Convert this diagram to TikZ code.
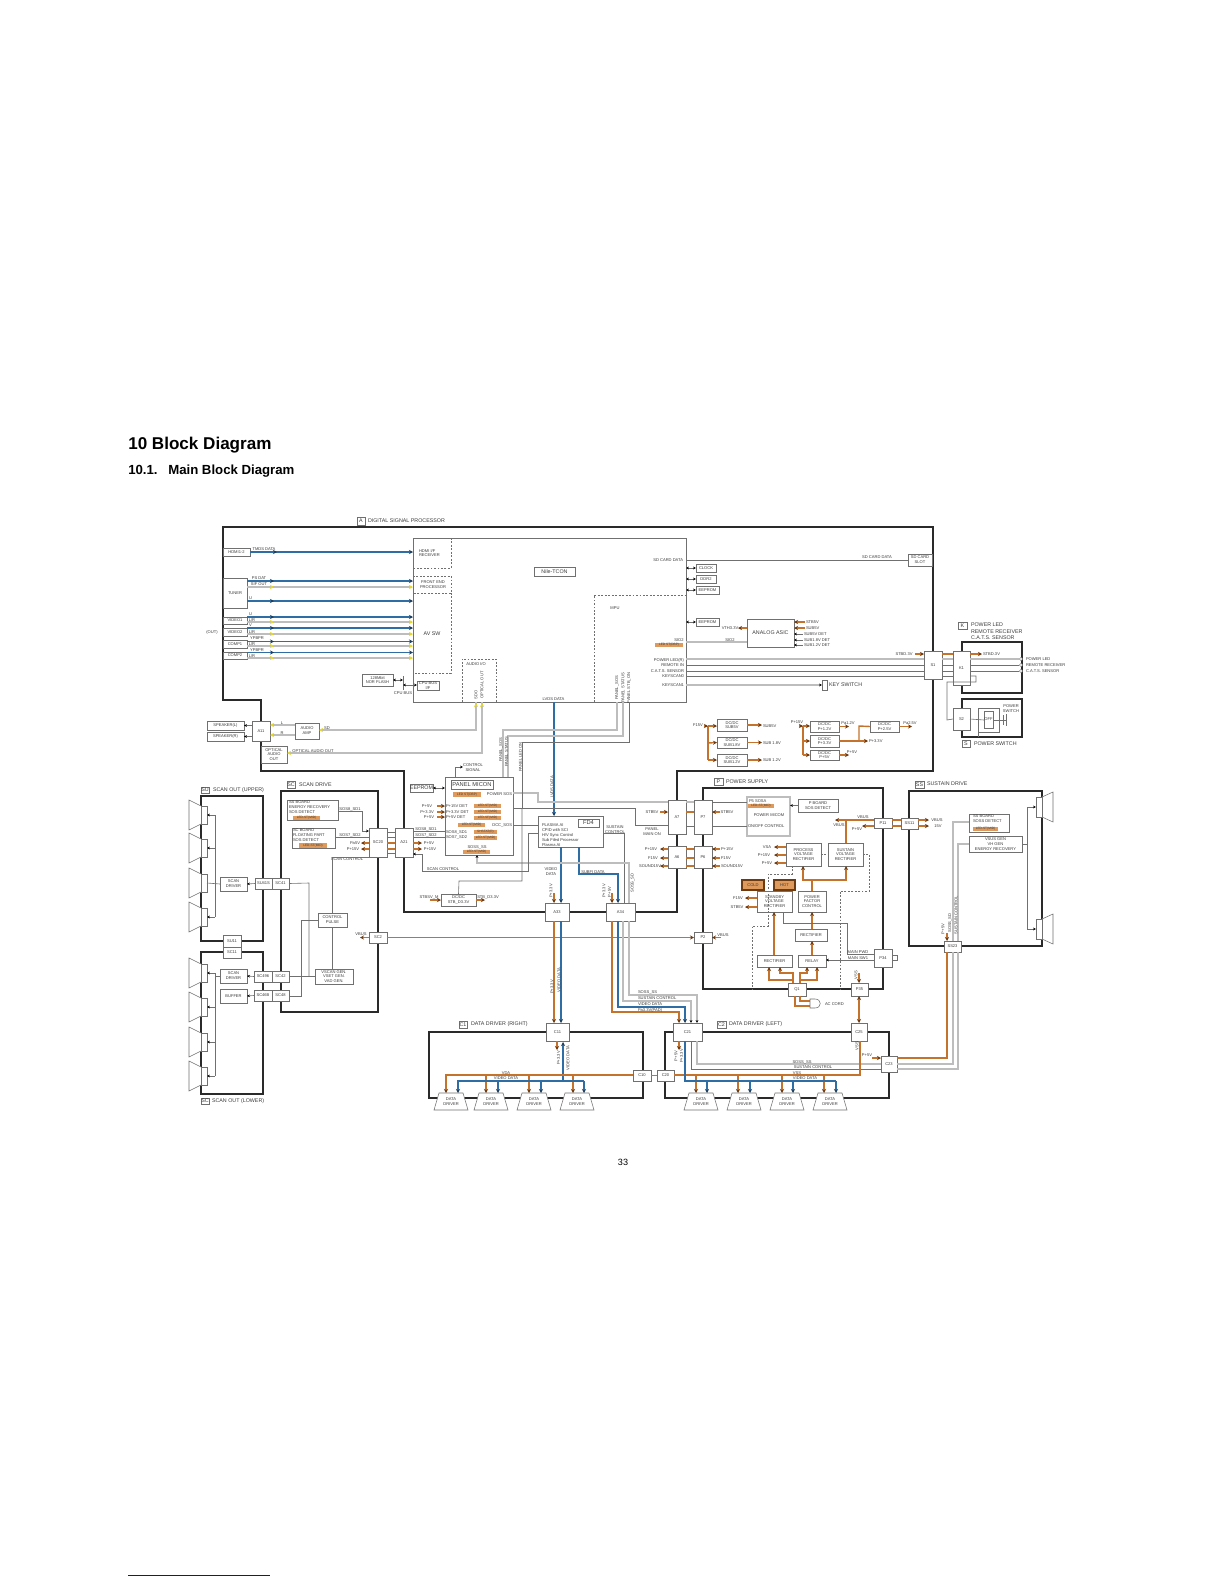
\documentclass[tikz,border=0pt]{standalone}
\usepackage{fontspec}
\setmainfont{Liberation Sans}
\usetikzlibrary{arrows.meta}
\definecolor{ocol}{HTML}{C4722C}
\definecolor{odark}{HTML}{6E3A10}
\definecolor{ofill}{HTML}{DE9A5C}
\definecolor{bcol}{HTML}{2F6EA5}
\definecolor{bdark}{HTML}{1E3F5E}
\definecolor{gcol}{HTML}{BDBDBD}
\definecolor{dcol}{HTML}{707070}
\definecolor{txt}{HTML}{3C3C3C}
\definecolor{brdc}{HTML}{2A2A2A}
\definecolor{ycol}{HTML}{E6D820}
\tikzset{
  ak/.tip={Stealth[length=2.2pt,width=2pt,black]},
  ao/.tip={Stealth[length=3pt,width=3pt,odark]},
  ab/.tip={Stealth[length=3pt,width=3pt,bdark]},
  ay/.tip={Stealth[length=3pt,width=3pt,ycol]},
  lnor/.style={draw=ocol,line width=1.05pt},
  lnbu/.style={draw=bcol,line width=1.05pt},
  lngy/.style={draw=gcol,line width=.95pt},
  lntn/.style={draw=dcol,line width=.45pt},
  brd/.style={draw=brdc,line width=.95pt,fill=none},
  fz/.style={font=\fontsize{2.4pt}{2.9pt}\selectfont},
  fa/.style={font=\fontsize{3.05pt}{3.65pt}\selectfont},
  fb/.style={font=\fontsize{4pt}{4.7pt}\selectfont},
  fc/.style={font=\fontsize{4.3pt}{5pt}\selectfont},
  bxs/.style={draw=dcol,line width=.45pt,fill=white,inner sep=0pt,outer sep=0pt,align=center,text=txt,fb},
  lbs/.style={inner sep=0pt,outer sep=0pt,text=txt,fa,align=center},
  dsh/.style={draw=dcol,line width=.4pt,dash pattern=on 1.4pt off 1.2pt},
  hig/.style={draw=none,fill=ofill,fz},
  wsym/.style={draw=dcol,line width=.4pt,fill=white},
}
\newcount\lbn
\newcommand{\bx}[7][]{%
  \pgfmathsetmacro\cxx{((#3)+(#5))/2}\pgfmathsetmacro\cyy{((#4)+(#6))/2}%
  \pgfmathsetmacro\www{((#5)-(#3))*0.75}\pgfmathsetmacro\hhh{((#6)-(#4))*0.75}%
  \node[bxs,minimum width=\www pt,minimum height=\hhh pt,#1](#2) at (\cxx,\cyy){#7};}
\newcommand{\lb}[4][]{\global\advance\lbn by 1 \node[lbs,#1](t\the\lbn) at (#2,#3){#4};}
\newcommand{\hc}[4][lntn]{\draw[#1] (#2.east |- 0,#4) -- (#3.west |- 0,#4);}
\newcommand{\vc}[4][lntn]{\draw[#1] (#2.south -| #4,0) -- (#3.north -| #4,0);}
\newcommand{\hig}[6]{\bx[hig]{#1}{#2}{#3}{#4}{#5}{#6}}
\newcommand{\sigb}[3][lnbu]{\draw[#1,-ab] (#2.east |- 0,#3) -- (cpu.west |- 0,#3);\draw[#1,-ab] (#2.east |- 0,#3) -- ++(27,0);}
\newcommand{\sigg}[2]{\draw[lngy,-ay] (#1.east |- 0,#2) -- (cpu.west |- 0,#2);\draw[lngy,-ay] (#1.east |- 0,#2) -- ++(27,0);}
\newcommand{\spkl}[2]{\draw[wsym] (201,#2-9) -- (189,#2-15) -- (189,#2+15) -- (201,#2+9);\bx{#1}{201}{#2-9}{207}{#2+9}{}}
\newcommand{\spkr}[2]{\draw[wsym] (1042,#2-10) -- (1053,#2-15) -- (1053,#2+15) -- (1042,#2+10);\bx{#1}{1036}{#2-10}{1042}{#2+10}{}}
\newcommand{\ddrv}[2]{\draw[wsym] (#2-12,1093) -- (#2+12,1093) -- (#2+17,1110) -- (#2-17,1110) -- cycle;\node[lbs,minimum height=12.75pt,minimum width=18pt,text depth=0pt](#1) at (#2,1101.5){DATA\\DRIVER};}
\begin{document}
\begin{tikzpicture}[x=0.75pt,y=-0.75pt]
\useasboundingbox (0,0) rectangle (1224,1584);
\fill[white] (0,0) rectangle (1224,1584);
% page headings
\node[anchor=base west,inner sep=0pt,font=\fontsize{12.8pt}{15pt}\selectfont\bfseries](htitle) at (128,449){10 Block Diagram};
\node[anchor=base west,inner sep=0pt,font=\fontsize{9.9pt}{12pt}\selectfont\bfseries](hsub) at (128,474){10.1.};
\node[anchor=base west,inner sep=0pt,font=\fontsize{9.9pt}{12pt}\selectfont\bfseries](hsubb) at (168,474){Main Block Diagram};
\node[inner sep=0pt,font=\fontsize{6.8pt}{8pt}\selectfont](pgno) at (623,1162){33};
\draw[draw={rgb,255:red,20;green,20;blue,130},line width=.7pt] (128,1575) -- (270,1575);
% thick board outlines
\draw[brd] (223,527) -- (933,527) -- (933,771) -- (677,771) -- (677,912) -- (404,912) -- (404,771) -- (261,771) -- (261,700) -- (223,700) -- cycle;
\draw[brd] (201,796) rectangle (263,941);
\draw[brd] (201,952) rectangle (263,1094);
\draw[brd] (281,791) rectangle (378,1012);
\draw[brd] (703,788) rectangle (883,989);
\draw[brd] (909,791) rectangle (1042,946);
\draw[brd] (429,1032) rectangle (643,1098);
\draw[brd] (665,1032) rectangle (889,1098);
\draw[brd] (962,642) rectangle (1022,693);
\draw[brd] (962,699) rectangle (1022,737);
% A board left blocks
\bx[fa]{hdmi}{223}{548}{250}{556}{HDMI1-2}
\bx[fa]{tuner}{223}{578}{247}{608}{TUNER}
\bx[fa]{vone}{223}{617}{247}{624}{VIDEO1}
\bx[fa]{vtwo}{223}{628}{247}{636}{VIDEO2}
\bx[fa]{cone}{223}{640}{247}{648}{COMP1}
\bx[fa]{ctwo}{223}{652}{247}{659}{COMP2}
\lb{212}{632}{(OUT)}
\bx[fill=white]{cpu}{413}{538}{686}{702}{}
\draw[dsh] (451,538) -- (451,568) -- (413,568);
\draw[dsh] (413,576) -- (451,576) -- (451,593) -- (413,593);
\draw[dsh] (451,593) -- (451,673) -- (413,673);
\draw[dsh] (462,702) -- (462,659) -- (496,659) -- (496,702);
\draw[dsh] (594,702) -- (594,595) -- (686,595);
\lb[anchor=west,fa,align=left]{419}{553}{HDMI I/F\\RECEIVER}
\lb[fa]{433}{585}{FRONT END\\PROCESSOR}
\lb[fb]{432}{634}{AV SW}
\lb[fa]{476}{664}{AUDIO I/O}
\lb[rotate=90]{476}{695}{SDO}
\lb[rotate=90]{482}{685}{OPTICAL OUT}
\lb{615}{608}{MPU}
\bx[fb]{tcon}{534}{567}{575}{576}{Nile-TCON}
\bx[fa]{nor}{362}{674}{393}{686}{128Mbit\\NOR FLASH}
\bx[fa]{cpubus}{417}{681}{439}{690}{CPU BUS\\I/F}
\coordinate (busbar) at (403,683);
\draw[lntn] (403,676) -- (403,690);
\lb{403}{693.5}{CPU BUS}
\draw[lntn,ak-ak] (nor.east |- 0,680) -- (busbar |- 0,680);
\draw[lntn,ak-ak] (busbar |- 0,685) -- (cpubus.west |- 0,685);
% A board signals
\sigb{hdmi}{552}
\lb{264}{549.5}{TMDS DATA}
\sigb{tuner}{581}
\sigg{tuner}{587}
\sigb{tuner}{601}
\lb{259}{578.5}{PS DAT}
\lb{259}{584.5}{SIF OUT}
\lb{250.5}{598.5}{U}
\sigb{vone}{617}
\sigg{vone}{622}
\sigb{vtwo}{628}
\sigg{vtwo}{634}
\sigb{cone}{641.5}
\sigg{cone}{646}
\sigb{ctwo}{652.5}
\sigg{ctwo}{658}
\lb{250.5}{614.5}{U}\lb{252}{620.5}{L/R}\lb{250.5}{625.5}{V}\lb{252}{632}{L/R}
\lb{257}{638.5}{YPBPR}\lb{252}{644.5}{L/R}\lb{257}{650}{YPBPR}\lb{252}{656}{L/R}
% audio
\bx[fa]{spl}{207}{721}{244}{730}{SPEAKER(L)}
\bx[fa]{spr}{207}{732}{244}{741}{SPEAKER(R)}
\bx[fa]{aeleven}{252}{721}{270}{741}{A11}
\bx[fa]{amp}{295}{723}{319}{739}{AUDIO\\AMP}
\bx[fa]{optout}{261}{746}{287}{763}{OPTICAL\\AUDIO\\OUT}
\draw[lntn,-ak] (aeleven.west |- spl) -- (spl.east);
\draw[lntn,-ak] (aeleven.west |- spr) -- (spr.east);
\draw[lngy,-ay] (amp.west |- 0,725) -- (aeleven.east |- 0,725);
\draw[lngy,-ay] (amp.west |- 0,735) -- (aeleven.east |- 0,735);
\lb{282}{723}{L}\lb{282}{733}{R}
\draw[lngy,ay-] (amp.east |- 0,730) -- (476,730) -- (476,702);
\draw[lngy,ay-] (optout.east |- 0,753) -- (482,753) -- (482,702);
\draw[lngy,-ay] (476,712) -- (476,703);
\draw[lngy,-ay] (482,712) -- (482,703);
\lb{327}{728}{SD}
\lb{313}{751}{OPTICAL AUDIO OUT}
\bx[fb]{hA}{357}{517}{365}{525}{A}
\lb[fb,anchor=west]{368}{521}{DIGITAL SIGNAL PROCESSOR}
% A board right
\bx[fa]{clock}{696}{564}{716}{572}{CLOCK}
\bx[fa]{ddr}{696}{575}{716}{583}{DDR2}
\bx[fa]{eepa}{696}{586}{719}{594}{EEPROM}
\bx[fa]{eepb}{696}{618}{719}{626}{EEPROM}
\draw[lntn,ak-ak] (cpu.east |- clock) -- (clock.west);
\draw[lntn,ak-ak] (cpu.east |- ddr) -- (ddr.west);
\draw[lntn,ak-ak] (cpu.east |- eepa) -- (eepa.west);
\draw[lntn,ak-ak] (cpu.east |- eepb) -- (eepb.west);
\bx[fa]{sdslot}{908}{554}{932}{566}{SD CARD\\SLOT}
\hc[lntn]{cpu}{sdslot}{560}
\lb[anchor=east]{683}{560}{SD CARD DATA}
\lb{877}{557}{SD CARD DATA}
\bx[fb]{asic}{747}{619}{794}{647}{ANALOG ASIC}
\draw[lnor,-ao] (asic.west |- 0,628) -- ++(-9,0);
\lb{730}{628}{VTH3.3V}
\draw[lnor,ao-] (asic.east |- 0,622) -- ++(11,0);
\draw[lnor,ao-] (asic.east |- 0,628) -- ++(11,0);
\draw[lntn,ak-] (asic.east |- 0,634) -- ++(9,0);
\draw[lntn,ak-] (asic.east |- 0,640) -- ++(9,0);
\draw[lntn,ak-] (asic.east |- 0,645) -- ++(9,0);
\lb[anchor=west]{806}{622}{STB5V}
\lb[anchor=west]{806}{628}{SUB5V}
\lb[anchor=west]{804}{634}{SUB5V DET}
\lb[anchor=west]{804}{640}{SUB1.8V DET}
\lb[anchor=west]{804}{645}{SUB1.2V DET}
\draw[lngy] (cpu.east |- 0,642) -- (asic.west |- 0,642);
\lb{679}{640}{SIO2}\lb{730}{640}{SIO2}
\hig{hsio}{655}{643}{683}{647}{LED ST(DBP)}
\bx[fa]{sone}{924}{651}{942}{679}{S1}
\bx[fa]{kone}{953}{651}{970}{685}{K1}
\bx[fa]{stwo}{953}{708}{970}{730}{S2}
\draw[lngy] (cpu.east |- 0,659) -- (sone.west |- 0,659);
\hc[lntn]{cpu}{sone}{665}
\hc[lntn]{cpu}{sone}{671}
\hc[lntn]{cpu}{sone}{676}
\lb[anchor=east]{684}{660}{POWER LED(R)}
\lb[anchor=east]{684}{665.5}{REMOTE IN}
\lb[anchor=east]{684}{671}{C.A.T.S. SENSOR}
\lb[anchor=east]{684}{676.5}{KEYSCAN0}
\lb[anchor=east]{684}{685}{KEYSCAN1}
\bx{keysw}{822}{680}{827}{690}{}
\draw[lngy,-ak] (cpu.east |- keysw) -- (keysw.west);
\lb[anchor=west,fb]{829}{685}{KEY SWITCH}
\lb[rotate=90]{617}{688}{PANEL\_SOS}
\lb[rotate=90]{623}{688}{PANEL STATUS}
\lb[rotate=90]{629}{688}{PANEL STB\_ON}
% DC/DC groups
\bx[fa]{dsa}{717}{719}{747}{731}{DC/DC\\SUB5V}
\bx[fa]{dsb}{717}{737}{747}{748}{DC/DC\\SUB1.8V}
\bx[fa]{dsc}{717}{754}{747}{766}{DC/DC\\SUB1.2V}
\coordinate (fbus) at (708,726);
\draw[lnor] (fbus) -- (708,760);
\draw[lnor,-ao] (fbus) -- (dsa.west |- fbus);
\draw[lnor,-ao] (708,743) -- (dsb.west);
\draw[lnor,-ao] (708,760) -- (dsc.west);
\draw[lnor,ao-] (fbus) -- ++(-4,0);
\draw[lnor,-ao] (dsa.east) -- ++(15,0);
\draw[lnor,-ao] (dsb.east) -- ++(15,0);
\draw[lnor,-ao] (dsc.east) -- ++(15,0);
\lb{698}{725}{F15V}\lb[anchor=west]{763}{726}{SUB5V}\lb[anchor=west]{763}{743}{SUB 1.8V}\lb[anchor=west]{763}{760}{SUB 1.2V}
\bx[fa]{dpa}{810}{721}{839}{732}{DC/DC\\P+1.2V}
\bx[fa]{dpb}{810}{735}{839}{747}{DC/DC\\P+3.3V}
\bx[fa]{dpc}{810}{750}{839}{760}{DC/DC\\P+5V}
\bx[fa]{dpd}{870}{721}{899}{732}{DC/DC\\P+2.5V}
\coordinate (pbus) at (803,726);
\draw[lnor] (pbus) -- (803,755);
\draw[lnor,ao-] (pbus) -- ++(-4,0);
\draw[lnor,-ao] (pbus) -- (dpa.west |- pbus);
\draw[lnor,-ao] (803,741) -- (dpb.west);
\draw[lnor,-ao] (803,755) -- (dpc.west);
\draw[lnor,-ao] (dpa.east) -- ++(10,0);
\draw[lnor,-ao] (dpc.east) -- ++(10,0);
\draw[lnor,-ao] (dpb.east) -- (868,741);
\draw[lnor] (859,741) -- (859,726) -- (dpd.west);
\draw[lnor,-ao] (dpd.east) -- ++(13,0);
\lb{797}{722}{P+15V}\lb{848}{723}{Pa1.2V}\lb{852}{752}{P+5V}\lb[anchor=west]{869}{741}{P+3.3V}\lb{910}{723}{Pa2.5V}
% K, S
\hc[lnor]{sone}{kone}{654}
\draw[lnor,ao-] (sone.west |- 0,654) -- ++(-9,0);
\draw[lnor,-ao] (kone.east |- 0,654) -- ++(12,0);
\lb{904}{654}{STBD.3V}\lb[anchor=west]{983}{654}{STBD.3V}
\hc[lngy]{sone}{kone}{659}\hc{sone}{kone}{665}\hc{sone}{kone}{671}\hc{sone}{kone}{676}
\node[circle,draw=dcol,line width=.3pt,fill=white,inner sep=0pt,minimum size=2.4pt](cla) at (1021,659){};
\node[circle,draw=dcol,line width=.3pt,fill=white,inner sep=0pt,minimum size=2.4pt](clb) at (1021,665){};
\node[circle,draw=dcol,line width=.3pt,fill=white,inner sep=0pt,minimum size=2.4pt](clc) at (1021,671){};
\draw[lngy] (kone.east |- cla) -- (cla);
\draw[lntn] (kone.east |- clb) -- (clb);
\draw[lntn] (kone.east |- clc) -- (clc);
\lb[anchor=west]{1026}{659}{POWER LED}\lb[anchor=west]{1026}{665.5}{REMOTE RECEIVER}\lb[anchor=west]{1026}{671}{C.A.T.S. SENSOR}
\bx[fb]{hK}{958}{622}{967}{629}{K}
\lb[anchor=west,fb,align=left]{971}{625}{POWER LED}\lb[anchor=west,fb]{971}{631.5}{REMOTE RECEIVER}\lb[anchor=west,fb]{971}{638}{C.A.T.S. SENSOR}
\bx[fb]{hS}{962}{740}{970}{747}{S}
\lb[anchor=west,fb]{974}{743.5}{POWER SWITCH}
\draw[lntn] (kone.east |- 0,676) -- (976,676) -- (976,682) -- (947,682) -- (947,720) -- (stwo.west);
\draw[lntn] (stwo.east) -- (984,720);
\draw[lntn] (978,737) -- (978,708) -- (999,708) -- (999,732) -- (978,732);
\bx{swin}{984}{711}{993}{728}{}
\lb{988.5}{719.5}{OFF}
\lb{1011}{708.5}{POWER\\SWITCH}
\draw[lntn] (993,720) -- (1006,720);
\draw[lntn] (1003,715) -- (1003,725);
\draw[lntn] (1006,714) -- (1006,726);
% Panel micom
\bx{micom}{445}{777}{513}{855}{}
\bx[fc]{mictit}{451}{780}{493}{789}{PANEL MICON}
\bx[fb]{eepc}{410}{784}{433}{792}{EEPROM}
\draw[lntn,ak-ak] (eepc.east) -- (micom.west |- eepc);
\lb{473}{768}{CONTROL\\SIGNAL}
\draw[lntn,-ak] (micom.north -| 455,0) -- (455,767) -- (463,767);
\hig{ha}{453}{792}{481}{797}{LED ST(DBP)}
\hig{hb}{474}{804}{501}{808}{LED-ST(MID)}
\hig{hc}{474}{810}{501}{814}{LED-ST(MID)}
\hig{hd}{474}{816}{501}{820}{LED-SF(MID)}
\hig{he}{458}{823}{485}{827}{LED-ST(MID)}
\hig{hf}{474}{830}{497}{834}{SHSTAT(R)}
\hig{hg}{474}{836}{497}{840}{LED-ST(MID)}
\hig{hh}{463}{850}{490}{854}{LED-ST(MID)}
\lb[anchor=east]{512}{794}{POWER SOS}
\lb[anchor=east]{512}{825}{DCC\_SOS}
\lb[anchor=west]{446}{806}{P+15V DET}\lb[anchor=west]{446}{812}{P+3.3V DET}\lb[anchor=west]{446}{817.5}{P+5V DET}
\lb[anchor=west]{446}{832}{SOS8\_SD1}\lb[anchor=west]{446}{837.5}{SOS7\_SD2}
\lb{477}{847}{SOSS\_SS}
\draw[lnor,ao-] (micom.west |- 0,806) -- ++(-8,0);
\draw[lnor,ao-] (micom.west |- 0,812) -- ++(-8,0);
\draw[lnor,ao-] (micom.west |- 0,817) -- ++(-8,0);
\lb{427}{806}{P+5V}\lb{427}{812}{P+3.3V}\lb{429}{817}{P+5V}
% Scan drive
\bx[fa]{sbbd}{287}{800}{338}{820}{}
\lb[anchor=north west,align=left]{289}{801}{SS BOARD\\ENERGY RECOVERY\\SOS DETECT}
\hig{hi}{293}{816}{320}{819.5}{LED-ST(MID)}
\bx[fa]{scbd}{292}{828}{335}{848}{}
\lb[anchor=north west,align=left]{293}{829}{SC BOARD\\FLOATING PART\\SOS DETECT}
\hig{hj}{299}{843}{327}{847.5}{LED-ST(MID)}
\bx[fa]{sctw}{369}{828}{387}{857}{SC20}
\bx[fa]{atwo}{395}{828}{413}{857}{A21}
\bx[fa]{sctr}{369}{932}{387}{943}{SC2}
\bx[fa]{ctlp}{318}{913}{347}{927}{CONTROL\\PULSE}
\bx[fa]{vscan}{315}{969}{353}{984}{VSCAN GEN.\\VSET GEN.\\VAD GEN.}
\bx[fb]{hSC}{287}{781}{295}{788}{SC}
\lb[anchor=west,fb]{299}{785}{SCAN DRIVE}
\draw[lntn,-ak] (sbbd.east |- 0,811) -- (362,811) -- (362,831) -- (sctw.west |- 0,831);
\draw[lntn] (scbd.east |- 0,837) -- (sctw.west |- 0,837);
\lb{350}{809}{SOS8\_SD1}\lb{350}{835}{SOS7\_SD2}
\draw[lnor,-ao] (sctw.west |- 0,843) -- ++(-8,0);
\draw[lnor,-ao] (sctw.west |- 0,849) -- ++(-8,0);
\lb{355}{843}{Pa5V}\lb{353}{849}{P+15V}
\lb{347}{859.5}{SCAN CONTROL}
\draw[lntn] (sctw.west |- 0,857) -- (332,857) -- (332,913);
\hc[lnor]{sctw}{atwo}{843}\hc[lnor]{sctw}{atwo}{849}
\hc{sctw}{atwo}{832}\hc{sctw}{atwo}{837}\hc{sctw}{atwo}{853}
\draw[lnor,-ao] (atwo.east |- 0,843) -- ++(9,0);
\draw[lnor,-ao] (atwo.east |- 0,849) -- ++(9,0);
\draw[lntn] (atwo.east |- 0,831) -- (micom.west |- 0,831);
\draw[lntn] (atwo.east |- 0,837) -- (micom.west |- 0,837);
\lb{426}{829}{SOS8\_SD1}\lb{426}{835}{SOS7\_SD2}\lb{429}{843}{P+5V}\lb{430}{849}{P+15V}
\lb{443}{869}{SCAN CONTROL}
% scan out upper
\bx[fb]{hSU}{201}{787}{209}{793}{SU}
\lb[anchor=west,fb]{213}{790}{SCAN OUT (UPPER)}
\spkl{su1}{815}\spkl{su2}{848}\spkl{su3}{883}\spkl{su4}{917}
\bx[fa]{sdu}{220}{877}{247}{891}{SCAN\\DRIVER}
\bx[fa]{suf}{255}{878}{272}{889}{SU41S}
\bx[fa]{scf}{272}{878}{289}{889}{SC41}
\draw[lntn,-ak] (suf.west) -- (sdu.east);
\draw[lntn] (215,815) -- (215,917);
\draw[lntn] (sdu.west) -- (su3.east);
\draw[lntn,ak-] (su1.east) -- ++(8,0);
\draw[lntn,ak-] (su2.east) -- ++(8,0);
\draw[lntn,ak-] (su4.east) -- ++(8,0);
\bx[fa]{suo}{223}{935}{241}{947}{SU11}
\bx[fa]{sco}{223}{947}{241}{958}{SC11}
% scan out lower
\bx[fb]{hSD}{201}{1098}{209}{1104}{SC}
\lb[anchor=west,fb]{212}{1101}{SCAN OUT (LOWER)}
\spkl{sl1}{973}\spkl{sl2}{1007}\spkl{sl3}{1042}\spkl{sl4}{1076}
\draw[lntn] (215,973) -- (215,1076);
\draw[lntn,ak-] (sl1.east) -- ++(8,0);
\draw[lntn,ak-] (sl2.east) -- ++(8,0);
\draw[lntn,ak-] (sl3.east) -- ++(8,0);
\draw[lntn,ak-] (sl4.east) -- ++(8,0);
\bx[fa]{sdl}{220}{969}{247}{983}{SCAN\\DRIVER}
\bx[fa]{bufr}{220}{989}{247}{1003}{BUFFER}
\bx[fa]{suh}{254}{971}{272}{982}{SC496}
\bx[fa]{sct}{272}{971}{289}{982}{SC42}
\bx[fa]{sui}{254}{990}{272}{1001}{SC46B}
\bx[fa]{sce}{272}{990}{289}{1001}{SC48}
\draw[lntn,-ak] (suh.west) -- (sdl.east);
\draw[lntn,-ak] (sui.west) -- (bufr.east);
\draw[lntn] (215,976) -- (sdl.west);
\draw[lntn] (scf.east) -- (309,883) -- (309,976);
\draw[lntn] (sct.east |- 0,976) -- (vscan.west |- 0,976);
\draw[lntn] (sce.east |- 0,996) -- (301,996) -- (301,920) -- (ctlp.west |- 0,920);
\draw[lntn] (ctlp.south) -- (vscan.north -| ctlp.south);
% FD4 block
\bx{fd}{538}{816}{603}{847}{}
\bx[fc]{fdt}{578}{819}{599}{827}{FD4}
\lb[anchor=north west,fa,align=left]{542}{824}{PLASMA AI\\CPID with SCI\\H/V Sync Control\\Sub Filed Processor\\Plasma AI}
\draw[lnbu,-ab] (cpu.south -| 554,0) -- (fd.north -| 554,0);
\lb[fa]{553.5}{699}{LVDS DATA}
\lb[rotate=90]{552}{787}{LVDS DATA}
\draw[lntn] (micom.east |- 0,825) -- (fd.west |- 0,825);
\draw[lngy] (micom.east |- 0,793) -- (538,793) -- (538,802) -- (668,802);
% panel lines
\draw[lngy] (cpu.south -| 617,0) -- (617,730) -- (503,730) -- (503,777);
\draw[lngy] (cpu.south -| 623,0) -- (623,736) -- (508,736) -- (508,777);
\draw[lntn] (cpu.south -| 629,0) -- (629,742) -- (522,742) -- (522,808) -- (micom.east |- 0,808);
\lb[rotate=90]{501}{750}{PANEL\_SOS}
\lb[rotate=90]{506.5}{752}{PANEL STATUS}
\lb[rotate=90]{520.5}{757}{PANEL LED ON}
% A33/A34
\bx[fa]{athr}{545}{903}{569}{921}{A33}
\bx[fa]{afou}{606}{903}{635}{921}{A34}
\draw[lnbu,-ab] (fd.south -| 561,0) -- (athr.north -| 561,0);
\draw[lnbu,-ab] (fd.south -| 579,0) -- (579,874) -- (618,874) -- (afou.north -| 618,0);
\lb{551}{872}{VIDEO\\DATA}\lb{593}{872}{SUBFI DATA}
\draw[lntn] (fd.east |- 0,833) -- (624,833) -- (afou.north -| 624,0);
\lb{615}{829.5}{SUSTAIN\\CONTROL}
\draw[lngy,-ak] (629,903) -- (629,863) -- (477,863) -- (micom.south -| 477,0);
\lb[rotate=90]{632.5}{883}{SOSS\_SD}
\draw[lnor,-ao] (554,893) -- (athr.north -| 554,0);
\draw[lnor,-ao] (612,893) -- (afou.north -| 612,0);
\lb[rotate=90]{551}{891}{P+3.3V}
\lb[rotate=90]{604}{891}{P+3.3V}
\lb[rotate=90]{609.5}{892}{P+5V}
% scan control and DC/DC stb
\draw[lntn,-ak] (538,833) -- (528,833) -- (528,871) -- (422,871) -- (422,854) -- (atwo.east |- 0,854);
\bx[fa]{dcstb}{441}{894}{476}{906}{DC/DC\\STB\_D3.3V}
\draw[lnor,ao-] (dcstb.west) -- ++(-11,0);
\draw[lnor,-ao] (dcstb.east) -- ++(9,0);
\lb{429}{897}{STBSV\_M}\lb{488}{897}{STB\_D3.3V}
\draw[lntn] (dcstb.north) -- (459,881) -- (522,881) -- (522,808);
% power supply
\bx[fb]{hP}{714}{778}{723}{785}{P}
\lb[anchor=west,fb]{726}{782}{POWER SUPPLY}
\bx[fa]{aseven}{668}{800}{686}{834}{A7}
\bx[fa]{pseven}{694}{800}{712}{834}{P7}
\bx[fa]{asix}{668}{846}{686}{868}{A6}
\bx[fa]{psix}{694}{846}{712}{868}{P6}
\bx[draw=gcol,line width=.8pt]{pmic}{747}{797}{790}{836}{}
\hig{hk}{748}{804}{774}{808}{LED-ST(MID)}
\lb[anchor=west]{749}{801}{P5 SOSA}
\lb[fa]{769}{815}{POWER MICOM}
\lb[anchor=west]{748}{826}{ON/OFF CONTROL}
\bx[fa]{pbd}{798}{799}{838}{812}{P BOARD\\SOS DETECT}
\draw[lntn,-ak] (pbd.west) -- (pmic.east |- pbd);
\draw[lntn] (pseven.east |- 0,802) -- (pmic.west |- 0,802);
\draw[lntn] (pseven.east |- 0,826) -- (pmic.west |- 0,826);
\hc[lnor]{aseven}{pseven}{812}\hc[lngy]{aseven}{pseven}{802}\hc{aseven}{pseven}{826}
\draw[lnor,ao-] (aseven.west |- 0,812) -- ++(-8,0);
\draw[lnor,ao-] (pseven.east |- 0,812) -- ++(8,0);
\lb{652}{812}{STB5V}\lb{727}{812}{STB5V}
\lb{652}{832}{PANEL\\MAIN ON}
\draw[lntn] (513,808) -- (635,808) -- (635,825) -- (aseven.west |- 0,825);
\hc[lnor]{asix}{psix}{849}\hc[lnor]{asix}{psix}{858}\hc[lnor]{asix}{psix}{866}
\draw[lnor,-ao] (asix.west |- 0,849) -- ++(-8,0);
\draw[lnor,-ao] (asix.west |- 0,858) -- ++(-8,0);
\draw[lnor,-ao] (asix.west |- 0,866) -- ++(-8,0);
\draw[lnor,ao-] (psix.east |- 0,849) -- ++(8,0);
\draw[lnor,ao-] (psix.east |- 0,858) -- ++(8,0);
\draw[lnor,ao-] (psix.east |- 0,866) -- ++(8,0);
\lb{651}{849}{P+15V}\lb{653}{858}{F15V}\lb{650}{866}{SOUND15V}
\lb[anchor=west]{721}{849}{P+15V}\lb[anchor=west]{721}{858}{F15V}\lb[anchor=west]{721}{866}{SOUND15V}
\bx[fa]{pvr}{786}{843}{821}{866}{PROCESS\\VOLTAGE\\RECTIFIER}
\bx[fa]{svr}{828}{843}{863}{866}{SUSTAIN\\VOLTAGE\\RECTIFIER}
\draw[lnor,-ao] (pvr.west |- 0,847) -- ++(-12,0);
\draw[lnor,-ao] (pvr.west |- 0,855) -- ++(-12,0);
\draw[lnor,-ao] (pvr.west |- 0,863) -- ++(-12,0);
\lb{767}{847}{VSA}\lb{764}{855}{P+15V}\lb{767}{863}{P+5V}
\bx[fa]{pone}{874}{818}{892}{828}{P11}
\bx[fa]{ptwo}{694}{932}{712}{943}{P2}
\bx[fa]{pfour}{874}{949}{892}{967}{P34}
\bx{pfs}{892}{955}{897}{960}{}
\bx[fa]{pfive}{851}{983}{868}{996}{P35}
\bx[fa]{qone}{788}{983}{806}{996}{Q1}
\draw[lnor,-ao] (pone.west |- 0,820) -- (835,820);
\draw[lnor] (846,820) -- (svr.north -| 846,0);
\draw[lnor,-ao] (pone.west |- 0,826) -- (862,826);
\lb{863}{817.5}{VBUS}\lb{839}{825}{VBUS}\lb{857}{829.5}{P+5V}
\draw[lnor,ao-] (ptwo.west) -- (sctr.east);
\draw[lnor,-ao] (sctr.west) -- ++(-9,0);
\draw[lnor,ao-] (ptwo.east) -- ++(9,0);
\lb{361}{934}{VBUS}\lb{723}{935}{VBUS}
\bx[draw=odark,line width=.9pt,fill=ofill,fa]{cold}{742}{880}{764}{890}{COLD}
\bx[draw=odark,line width=.9pt,fill=ofill,fa]{hot}{774}{880}{795}{890}{HOT}
\bx[fa]{stby}{757}{891}{792}{912}{STANDBY\\VOLTAGE\\RECTIFIER}
\bx[fa]{pfc}{798}{891}{826}{912}{POWER\\FACTOR\\CONTROL}
\bx[fa]{rcta}{795}{929}{827}{941}{RECTIFIER}
\bx[fa]{rctb}{757}{955}{792}{967}{RECTIFIER}
\bx[fa]{rly}{798}{955}{826}{967}{RELAY}
\draw[lnor,-ao] (stby.west |- 0,898) -- ++(-12,0);
\draw[lnor,-ao] (stby.west |- 0,907) -- ++(-12,0);
\lb{738}{898}{F15V}\lb{737}{907}{STB5V}
\draw[lnor,-ao] (rctb.north -| 774,0) -- (stby.south -| 774,0);
\draw[lnor,-ao] (rly.north -| 812,0) -- (rcta.south -| 812,0);
\draw[lnor,-ao] (rcta.north -| 812,0) -- (pfc.south -| 812,0);
\draw[lnor] (pfc.north -| 812,0) -- (812,880);
\draw[lnor,-ao] (812,880) -- (803,880) -- (pvr.south -| 803,0);
\draw[lnor,-ao] (812,880) -- (846,880) -- (svr.south -| 846,0);
\draw[lnor,-ao] (qone.north -| 793,0) -- (793,980) -- (769,980) -- (rctb.south -| 769,0);
\draw[lnor,-ao] (qone.north -| 800,0) -- (800,980) -- (817,980) -- (rly.south -| 817,0);
\draw[lnor,-ao] (qone.north -| 793,0) -- (793,973) -- (780,973) -- (rctb.south -| 780,0);
\draw[lnor,-ao] (qone.north -| 800,0) -- (800,973) -- (807,973) -- (rly.south -| 807,0);
\draw[lntn] (pfour.west |- 0,954) -- (847,954) -- (847,923) -- (783,923) -- (stby.south -| 783,0);
\draw[lntn,-ak] (pfour.west |- 0,960) -- (rly.east |- 0,960);
\lb{858}{952.5}{MAIN PWD}\lb{858}{958}{MAIN SW1}
\draw[dsh] (792,866) -- (792,874) -- (768,874) -- (768,926) -- (752,926) -- (752,989);
\draw[dsh] (821,854) -- (828,854);
\draw[dsh] (863,854) -- (869,854) -- (869,891) -- (840,891) -- (840,989);
% AC cord
\draw[lnor] (qone.south -| 795,0) -- (795,1006) -- (810,1006);
\draw[lnor] (qone.south -| 800,0) -- (800,1001) -- (810,1001);
\draw[wsym] (810,999) -- (815,999) .. controls (822,999) and (822,1008) .. (815,1008) -- (810,1008) -- cycle;
\lb[anchor=west]{825}{1004}{AC CORD}
% sustain
\bx[fb]{hSS}{915}{781}{924}{788}{SS}
\lb[anchor=west,fb]{927}{784}{SUSTAIN DRIVE}
\bx[fa]{ssel}{901}{818}{918}{829}{SS11}
\hc[lnor]{pone}{ssel}{820}\hc[lnor]{pone}{ssel}{826}
\draw[lnor,-ao] (ssel.east |- 0,820) -- ++(11,0);
\draw[lnor,-ao] (ssel.east |- 0,826) -- ++(11,0);
\lb{937}{820}{VBUS}\lb{938}{826}{15V}
\bx[fa]{ssbd}{969}{814}{1009}{832}{}
\lb[anchor=north west,align=left]{973}{815}{SS BOARD\\SOSS DETECT}
\hig{hl}{973}{826.5}{998}{830.5}{LED-ST(MID)}
\bx[fa]{vsus}{969}{836}{1022}{852}{VSUS GEN\\VH GEN\\ENERGY RECOVERY}
\spkr{ssa}{807}\spkr{ssb}{929}
\draw[lntn] (1027,807) -- (1027,929);
\draw[lntn,-ak] (1027,807) -- (ssa.west);
\draw[lntn,-ak] (1027,929) -- (ssb.west);
\draw[lntn] (vsus.east |- 0,844) -- (1027,844);
\bx[fa]{sstw}{944}{941}{961}{952}{SS23}
\draw[lngy] (sstw.north -| 953,0) -- (953,822) -- (ssbd.west |- 0,822);
\draw[lngy] (sstw.north -| 958,0) -- (958,844) -- (vsus.west |- 0,844);
\lb[rotate=90]{950}{923}{SOSS\_SD}
\lb[rotate=90]{956}{915}{SUSTAIN CONTROL}
\draw[lnor,ao-] (sstw.north -| 947,0) -- ++(0,-8);
\lb[rotate=90]{943}{929}{P+5V}
% C boards
\bx[fb]{hCo}{459}{1021}{467}{1028}{C1}
\lb[anchor=west,fb]{471}{1024.5}{DATA DRIVER (RIGHT)}
\bx[fb]{hCt}{717}{1021}{726}{1028}{C2}
\lb[anchor=west,fb]{729}{1024.5}{DATA DRIVER (LEFT)}
\bx[fa]{celv}{546}{1023}{569}{1041}{C11}
\bx[fa]{cten}{633}{1070}{651}{1081}{C10}
\bx[fa]{ctwe}{657}{1070}{674}{1081}{C20}
\bx[fa]{ctwa}{673}{1023}{702}{1041}{C21}
\bx[fa]{ctf}{851}{1023}{867}{1041}{C25}
\bx[fa]{ctt}{881}{1056}{897}{1072}{C23}
\draw[lnor,-ao] (athr.south -| 554,0) -- (celv.north -| 554,0);
\draw[lnbu,-ab] (athr.south -| 561,0) -- (celv.north -| 561,0);
\lb[rotate=90]{552}{987}{P+3.3V}
\lb[rotate=90]{559}{980}{VIDEO DATA}
\draw[lnor,-ao] (celv.south -| 557,0) -- ++(0,9);
\draw[lnbu,ab-] (563,1042) -- (563,1081);
\lb[rotate=90]{558.5}{1058}{P+3.3V}
\lb[rotate=90]{568}{1058}{VIDEO DATA}
\draw[lnor,-ao] (afou.south -| 612,0) -- (612,1012) -- (679,1012) -- (ctwa.north -| 679,0);
\draw[lnbu,-ab] (afou.south -| 618,0) -- (618,1007) -- (685,1007) -- (ctwa.north -| 685,0);
\draw[lngy,-ak] (afou.south -| 623,0) -- (623,1001) -- (691,1001) -- (ctwa.north -| 691,0);
\draw[lngy,-ak] (afou.south -| 629,0) -- (629,995) -- (697,995) -- (ctwa.north -| 697,0);
\lb[anchor=west]{638}{992.5}{SOSS\_SS}\lb[anchor=west]{638}{998.5}{SUSTAIN CONTROL}\lb[anchor=west]{638}{1004.5}{VIDEO DATA}\lb[anchor=west]{638}{1010}{Pa3.3V(PAD)}
\draw[lnor,-ao] (ctwa.south -| 679,0) -- ++(0,9);
\lb[rotate=90]{676}{1056}{P+5V}\lb[rotate=90]{681.5}{1056}{P+3.3V}
\draw[lngy] (ctwa.south -| 697,0) -- (697,1064) -- (ctt.west |- 0,1064);
\draw[lntn] (ctwa.south -| 691,0) -- (691,1069) -- (ctt.west |- 0,1069);
\lb{802}{1062}{SOSS\_SS}\lb{813}{1067.5}{SUSTAIN CONTROL}
% data driver C1
\ddrv{dra}{451}\ddrv{drb}{491}\ddrv{drc}{534}\ddrv{drd}{577}
\draw[lnor,-ao] (cten.west |- 0,1075) -- (446,1075) -- (dra.north -| 446,0);
\draw[lnor,-ao] (486,1075) -- (drb.north -| 486,0);
\draw[lnor,-ao] (529,1075) -- (drc.north -| 529,0);
\draw[lnor,-ao] (573,1075) -- (drd.north -| 573,0);
\draw[lnbu,-ab] (584,1081) -- (458,1081) -- (dra.north -| 458,0);
\draw[lnbu,-ab] (498,1081) -- (drb.north -| 498,0);
\draw[lnbu,-ab] (541,1081) -- (drc.north -| 541,0);
\draw[lnbu,-ab] (584,1081) -- (drd.north -| 584,0);
\lb{506}{1073}{VDA}\lb{506}{1078.5}{VIDEO DATA}
\hc[lnor]{cten}{ctwe}{1075.5}
% data driver C2
\ddrv{dre}{701}\ddrv{drf}{744}\ddrv{drg}{787}\ddrv{drh}{830}
\draw[lnor] (ctwe.east |- 0,1075) -- (860,1075) -- (ctf.south -| 860,0);
\draw[lnor,-ao] (696,1075) -- (dre.north -| 696,0);
\draw[lnor,-ao] (738,1075) -- (drf.north -| 738,0);
\draw[lnor,-ao] (782,1075) -- (drg.north -| 782,0);
\draw[lnor,-ao] (824,1075) -- (drh.north -| 824,0);
\draw[lnbu] (ctwa.south -| 685,0) -- (685,1081) -- (836,1081);
\draw[lnbu,-ab] (707,1081) -- (dre.north -| 707,0);
\draw[lnbu,-ab] (750,1081) -- (drf.north -| 750,0);
\draw[lnbu,-ab] (793,1081) -- (drg.north -| 793,0);
\draw[lnbu,-ab] (836,1081) -- (drh.north -| 836,0);
\lb{797}{1073}{VSS}\lb{805}{1078.5}{VIDEO DATA}
\draw[lnor,ao-ao] (pfive.south -| 859,0) -- (ctf.north -| 859,0);
\draw[lnor,ao-] (pfive.north -| 859,0) -- ++(0,-10);
\lb[rotate=90]{856}{975}{VSS}
\lb[rotate=90]{857}{1046}{VSS}
\draw[lnor,ao-] (ctt.west |- 0,1058) -- ++(-9,0);
\lb{867}{1055}{P+5V}
% C23 to SS23
\draw[lnor] (ctt.east |- 0,1058) -- (947,1058) -- (sstw.south -| 947,0);
\draw[lngy] (ctt.east |- 0,1064) -- (953,1064) -- (sstw.south -| 953,0);
\draw[lngy] (ctt.east |- 0,1069) -- (958,1069) -- (sstw.south -| 958,0);
\end{tikzpicture}
\end{document}
